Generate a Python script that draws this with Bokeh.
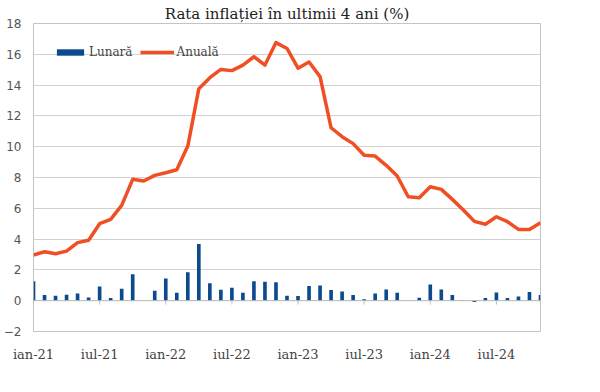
from bokeh.plotting import figure
from bokeh.models import Range1d, Span, Legend, LegendItem, FixedTicker
from bokeh.embed import file_html
from bokeh.resources import INLINE

title_text = "Rata inflației în ultimii 4 ani (%)"

# Jan 2021 .. Nov 2024 (47 months)
lunara = [1.27, 0.37, 0.32, 0.39, 0.47, 0.21, 0.92, 0.17, 0.77, 1.72, 0.00, 0.65,
          1.44, 0.52, 1.85, 3.68, 1.14, 0.71, 0.84, 0.52, 1.27, 1.23, 1.20, 0.32,
          0.30, 0.95, 0.99, 0.69, 0.60, 0.37, 0.09, 0.47, 0.73, 0.52, 0.00, 0.19,
          1.05, 0.73, 0.37, 0.03, -0.08, 0.17, 0.54, 0.17, 0.28, 0.56, 0.37]
anuala = [2.97, 3.18, 3.05, 3.22, 3.77, 3.92, 5.00, 5.28, 6.19, 7.88, 7.77, 8.14,
          8.31, 8.50, 10.04, 13.77, 14.48, 15.02, 14.94, 15.30, 15.84, 15.30, 16.76, 16.38,
          15.10, 15.50, 14.55, 11.23, 10.65, 10.20, 9.44, 9.39, 8.79, 8.10, 6.75, 6.69,
          7.40, 7.23, 6.58, 5.89, 5.15, 4.96, 5.45, 5.13, 4.63, 4.63, 5.06]
tick_labels = ["ian-21", "iul-21", "ian-22", "iul-22", "ian-23", "iul-23", "ian-24", "iul-24"]
y_ticks = [-2, 0, 2, 4, 6, 8, 10, 12, 14, 16, 18]

SERIF = "'DejaVu Serif'"

xs = list(range(len(anuala)))
tick_pos = [6 * i for i in range(len(tick_labels))]

p = figure(width=584, height=376, x_range=Range1d(0, len(xs) - 1), y_range=Range1d(-2, 18),
           output_backend="svg", toolbar_location=None,
           min_border_left=25, min_border_right=44, min_border_top=23, min_border_bottom=45)
p.background_fill_color = "white"
p.border_fill_color = "white"
p.outline_line_color = "#c4c4c4"
p.outline_line_width = 1

p.title.text = title_text
p.title.align = "center"
p.title.text_font = SERIF
p.title.text_font_size = "15px"
p.title.text_font_style = "normal"
p.title.text_color = "#222222"
p.title.standoff = 2
p.title.offset = -7

p.xgrid.visible = False
p.ygrid.grid_line_color = "#d2d2d2"
p.ygrid.grid_line_width = 1

yax = p.yaxis[0]
yax.ticker = FixedTicker(ticks=y_ticks)
yax.major_tick_line_color = None
yax.minor_tick_line_color = None
yax.axis_line_color = None
yax.major_label_standoff = 6
yax.major_label_text_font = "'DejaVu Sans'"
yax.major_label_text_font_size = "12px"
yax.major_label_text_color = "#555555"

xax = p.xaxis[0]
xax.ticker = FixedTicker(ticks=tick_pos)
xax.major_label_overrides = {t: l for t, l in zip(tick_pos, tick_labels)}
xax.major_tick_line_color = None
xax.minor_tick_line_color = None
xax.axis_line_color = None
xax.major_label_standoff = 9
xax.major_label_text_font = SERIF
xax.major_label_text_font_size = "13px"
xax.major_label_text_color = "#444444"

p.add_layout(Span(location=0, dimension="width", line_color="#bdbdbd", line_width=1))
p.segment(x0=tick_pos, y0=[0] * len(tick_pos), x1=tick_pos, y1=[-0.25] * len(tick_pos),
          line_color="#bdbdbd", line_width=1)

bars = p.vbar(x=xs, top=lunara, bottom=0, width=0.33, fill_color="#0b4a8c", line_color=None)
line = p.line(xs, anuala, line_color="#f04f23", line_width=3.5, line_join="round")

legend = Legend(items=[LegendItem(label="Lunară", renderers=[bars]),
                       LegendItem(label="Anuală", renderers=[line])],
                orientation="horizontal", location=(20, 272),
                border_line_color=None, background_fill_alpha=0,
                label_text_font=SERIF, label_text_font_size="12px",
                label_text_color="#444444",
                glyph_width=34, glyph_height=8, label_standoff=2, spacing=8,
                padding=0, margin=0)
p.add_layout(legend)

open("out.html", "w").write(file_html(p, INLINE))
